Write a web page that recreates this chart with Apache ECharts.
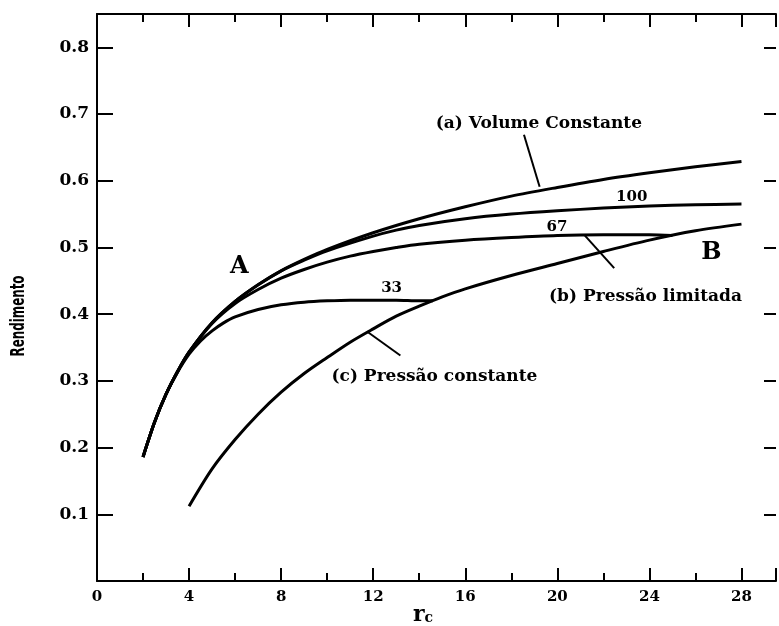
<!DOCTYPE html>
<html>
<head>
<meta charset="utf-8">
<title>Rendimento vs rc</title>
<script src="https://cdn.jsdelivr.net/npm/echarts@6/dist/echarts.min.js"></script>
<style>
  html, body { margin: 0; padding: 0; background: #fff; }
  #chart { width: 779px; height: 626px; }
</style>
</head>
<body>
<div id="chart"></div>
<script>
// ---- data ----
// (a) volume constante
const rA   = [2, 2.5, 3, 3.5, 4, 5, 6, 7, 8, 9, 10, 12, 14, 16, 18, 20, 22, 24, 26, 28];
const effA = [0.186, 0.238, 0.280, 0.314, 0.343, 0.387, 0.419, 0.444, 0.465, 0.482, 0.497, 0.522, 0.543, 0.561, 0.577, 0.590, 0.602, 0.612, 0.621, 0.629];
// (b) pressão limitada, 100
const r100   = [2, 2.5, 3, 3.5, 4, 5, 6, 7, 8, 9, 10, 12, 13, 14, 16, 18, 20, 22, 24, 26, 28];
const eff100 = [0.186, 0.238, 0.280, 0.314, 0.343, 0.387, 0.419, 0.444, 0.465, 0.481, 0.495, 0.517, 0.526, 0.533, 0.543, 0.550, 0.555, 0.559, 0.562, 0.564, 0.565];
// (b) pressão limitada, 67
const r67   = [2, 2.5, 3, 3.5, 4, 5, 6, 7, 8, 9, 10, 11, 12, 13, 14, 16, 18, 20, 22, 24, 25];
const eff67 = [0.186, 0.238, 0.280, 0.314, 0.343, 0.386, 0.416, 0.437, 0.454, 0.467, 0.478, 0.487, 0.494, 0.500, 0.505, 0.511, 0.515, 0.518, 0.519, 0.519, 0.518];
// (b) pressão limitada, 33
const r33   = [2, 2.5, 3, 3.5, 4, 4.5, 5, 5.5, 6, 7, 8, 9, 10, 11, 12, 13, 14, 14.6];
const eff33 = [0.186, 0.238, 0.280, 0.313, 0.340, 0.360, 0.375, 0.387, 0.396, 0.407, 0.414, 0.418, 0.420, 0.421, 0.421, 0.421, 0.420, 0.420];
// (c) pressão constante
const rC   = [4, 5, 6, 7, 8, 9, 10, 11, 12, 13, 14, 15, 16, 18, 20, 22, 24, 26, 28];
const effC = [0.112, 0.168, 0.212, 0.250, 0.283, 0.311, 0.335, 0.358, 0.378, 0.397, 0.412, 0.426, 0.438, 0.458, 0.476, 0.494, 0.511, 0.525, 0.535];

// annotation texts and where they sit (data units)
const noteText = ['(a) Volume Constante', '100', '67', 'B', '(b) Pressão limitada', '33', '(c) Pressão constante', 'A'];
const noteR    = [19.2, 23.23, 19.98, 26.69, 23.83, 12.8, 14.66, 6.18];
const noteEff  = [0.685, 0.576, 0.531, 0.492, 0.427, 0.439, 0.306, 0.471];
const noteSize = [17, 15, 15, 24, 17, 15, 17, 24];

// leader lines from the labels to the curves
const leaders = [
  [[18.55, 0.669], [19.23, 0.591]],
  [[21.17, 0.519], [22.47, 0.469]],
  [[11.73, 0.374], [13.18, 0.338]]
];

const xTicks = [0, 4, 8, 12, 16, 20, 24, 28];

const chart = echarts.init(document.getElementById('chart'));

const SERIF = 'DejaVu Serif';
const pairs = (xs, ys) => xs.map((x, i) => [x, ys[i]]);

function curve(name, xs, ys) {
  return {
    name: name,
    type: 'line',
    data: pairs(xs, ys),
    showSymbol: false,
    smooth: 0.3,
    lineStyle: { color: '#000', width: 3 },
    silent: true,
    z: 3
  };
}

function xAx(pos, interval, len, main) {
  return {
    type: 'value',
    position: pos,
    min: 0,
    max: 29.5,
    interval: interval,
    axisLine: { show: main, onZero: false, lineStyle: { color: '#000', width: 2 } },
    axisTick: { show: true, inside: true, length: len, lineStyle: { color: '#000', width: 2 } },
    axisLabel: {
      show: main && pos === 'bottom',
      margin: 9,
      color: '#000',
      fontFamily: SERIF,
      fontWeight: 'bold',
      fontSize: 15,
      formatter: v => xTicks.indexOf(v) >= 0 ? String(v) : ''
    },
    splitLine: { show: false }
  };
}

const option = {
  animation: false,
  backgroundColor: '#fff',
  grid: { left: 97, right: 0, top: 14, bottom: 45, containLabel: false },
  xAxis: [
    xAx('bottom', 4, 13, true),
    xAx('bottom', 2, 8, false),
    xAx('top', 4, 13, true),
    xAx('top', 2, 8, false)
  ],
  yAxis: [
    {
      type: 'value',
      position: 'left',
      min: 0,
      max: 0.85,
      interval: 0.1,
      axisLine: { show: true, onZero: false, lineStyle: { color: '#000', width: 2 } },
      axisTick: { show: true, inside: true, length: 16, lineStyle: { color: '#000', width: 2 } },
      axisLabel: {
        margin: 8,
        color: '#000',
        fontFamily: SERIF,
        fontWeight: 'bold',
        fontSize: 17,
        formatter: v => {
          const t = Math.round(v * 10);
          return (t > 0 && Math.abs(v * 10 - t) < 1e-6) ? (t / 10).toFixed(1) : '';
        }
      },
      splitLine: { show: false }
    },
    {
      type: 'value',
      position: 'right',
      min: 0,
      max: 0.85,
      interval: 0.1,
      axisLine: { show: false, onZero: false },
      axisTick: { show: true, inside: true, length: 12, lineStyle: { color: '#000', width: 2 } },
      axisLabel: { show: false },
      splitLine: { show: false }
    }
  ],
  graphic: [
    {
      type: 'text',
      x: 19, y: 316,
      rotation: Math.PI / 2,
      scaleX: 0.66,
      style: {
        text: 'Rendimento',
        fill: '#000',
        font: 'bold 20px "Liberation Sans Narrow", "DejaVu Sans Condensed", sans-serif',
        align: 'center',
        verticalAlign: 'middle'
      }
    },
    {
      type: 'text',
      x: 423, y: 615,
      style: {
        text: '{r|r}{c|c}',
        align: 'center',
        verticalAlign: 'middle',
        rich: {
          r: { fontFamily: SERIF, fontWeight: 'bold', fontSize: 22, fill: '#000', color: '#000' },
          c: { fontFamily: SERIF, fontWeight: 'bold', fontSize: 14, fill: '#000', color: '#000', padding: [6, 0, 0, 0] }
        }
      }
    }
  ],
  series: [
    curve('(a) Volume Constante', rA, effA),
    curve('100', r100, eff100),
    curve('67', r67, eff67),
    curve('33', r33, eff33),
    curve('(c) Pressão constante', rC, effC),
    {
      type: 'scatter',
      symbolSize: 0,
      itemStyle: { color: '#000', opacity: 0 },
      silent: true,
      z: 5,
      data: noteText.map((t, i) => ({
        name: t,
        value: [noteR[i], noteEff[i]],
        label: { fontSize: noteSize[i] }
      })),
      label: {
        show: true,
        position: [0, 0],
        align: 'center',
        verticalAlign: 'middle',
        formatter: '{b}',
        color: '#000',
        opacity: 1,
        textBorderWidth: 0,
        fontFamily: SERIF,
        fontWeight: 'bold'
      },
      markLine: {
        silent: true,
        symbol: 'none',
        label: { show: false },
        lineStyle: { color: '#000', width: 2, type: 'solid' },
        data: leaders.map(seg => [{ coord: seg[0] }, { coord: seg[1] }])
      }
    }
  ]
};

chart.setOption(option);
</script>
</body>
</html>
